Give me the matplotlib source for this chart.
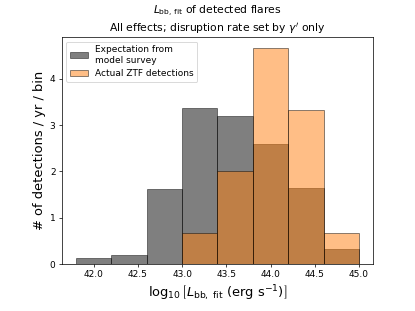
import matplotlib
matplotlib.use("Agg")
import matplotlib.pyplot as plt
import numpy as np

bin_edges = [41.8, 42.2, 42.6, 43.0, 43.4, 43.8, 44.2, 44.6, 45.0]
model_survey = [0.12, 0.19, 1.62, 3.37, 3.19, 2.59, 1.64, 0.33]
ztf_detections = [0.0, 0.0, 0.0, 0.667, 2.0, 4.667, 3.333, 0.667]

edges = np.array(bin_edges)
centers = 0.5 * (edges[:-1] + edges[1:])

DPI = 415 / 6.4
fig = plt.figure(figsize=(6.4, 311 / DPI), dpi=DPI)
ax = fig.add_axes([0.149, 0.151, 0.750, 0.730])

ax.hist(centers, bins=edges, weights=model_survey, color='k', alpha=0.5,
        edgecolor='k', label='Expectation from\nmodel survey')
ax.hist(centers, bins=edges, weights=ztf_detections, color='C1', alpha=0.5,
        edgecolor='k', label='Actual ZTF detections')

ax.set_xticks([42.0, 42.5, 43.0, 43.5, 44.0, 44.5, 45.0])
ax.set_yticks([0, 1, 2, 3, 4])
ax.tick_params(labelsize=10)
ax.set_xlabel(r'$\log_{10}\left[L_{\rm bb,\ fit}\ ({\rm erg\ s^{-1}})\right]$', fontsize=14.5)
ax.set_ylabel('# of detections / yr / bin', fontsize=14.5)
ax.set_title(r'$L_{\rm bb,\,fit}$ of detected flares' + '\n' + r"All effects; disruption rate set by $\gamma'$ only",
             fontsize=12)
ax.legend(loc='upper left', fontsize=10)

fig.savefig('out.png', dpi=DPI)
